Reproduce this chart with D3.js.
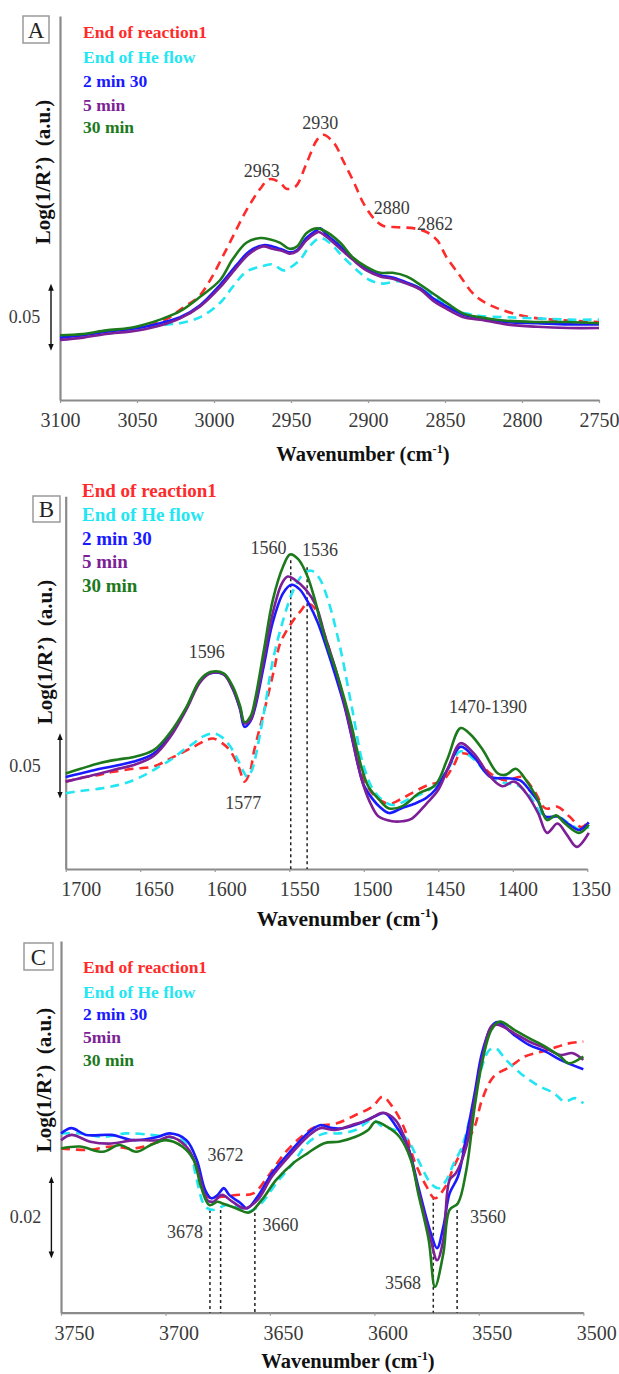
<!DOCTYPE html>
<html><head><meta charset="utf-8">
<script src="https://cdn.jsdelivr.net/npm/d3@7"></script>
<style>
html,body{margin:0;padding:0;background:#fff;}
svg text{font-family:'Liberation Serif','DejaVu Serif',serif !important;}
</style></head>
<body><div id="chart"></div>
<script>
// ---------- DATA ----------
const seriesNames = ["End of reaction1","End of He flow","2 min 30","5 min","30 min"];
const seriesNamesC = ["End of reaction1","End of He flow","2 min 30","5min","30 min"];
const seriesColors = ["#ff2a2a","#22e6f2","#1a1aff","#7d1f96","#1c7a1c"];

// Panel A (wavenumber, Log(1/R'))
const ticksA = [3100,3050,3000,2950,2900,2850,2800,2750];
const A_red = [[3100,0.052],[3080,0.055],[3060,0.058],[3050,0.060],[3040,0.063],[3030,0.068],[3020,0.077],[3010,0.086],[3002,0.101],[2995,0.118],[2989,0.133],[2979,0.158],[2970,0.176],[2964,0.184],[2957,0.181],[2953,0.176],[2947,0.178],[2940,0.197],[2933,0.217],[2929,0.221],[2922,0.214],[2916,0.199],[2909,0.181],[2903,0.164],[2896,0.151],[2890,0.145],[2881,0.144],[2870,0.143],[2862,0.140],[2855,0.133],[2849,0.119],[2840,0.103],[2832,0.089],[2825,0.082],[2813,0.075],[2795,0.069],[2780,0.067],[2750,0.065]];
const A_cyan = [[3100,0.053],[3080,0.055],[3060,0.057],[3050,0.059],[3040,0.061],[3030,0.063],[3022,0.064],[3009,0.069],[2996,0.081],[2988,0.094],[2979,0.107],[2970,0.111],[2962,0.113],[2955,0.108],[2951,0.110],[2944,0.117],[2938,0.128],[2931,0.135],[2925,0.131],[2916,0.119],[2907,0.108],[2899,0.100],[2890,0.097],[2881,0.099],[2871,0.096],[2862,0.090],[2853,0.083],[2845,0.076],[2836,0.072],[2827,0.070],[2810,0.069],[2790,0.068],[2770,0.067],[2750,0.067]];
const A_blue = [[3100,0.052],[3085,0.054],[3070,0.057],[3055,0.059],[3045,0.061],[3035,0.064],[3022,0.069],[3009,0.079],[2996,0.096],[2985,0.113],[2977,0.124],[2968,0.129],[2962,0.128],[2955,0.125],[2951,0.123],[2946,0.125],[2940,0.135],[2934,0.141],[2931,0.143],[2927,0.138],[2918,0.128],[2910,0.118],[2901,0.109],[2892,0.104],[2884,0.102],[2875,0.098],[2866,0.093],[2858,0.085],[2849,0.078],[2838,0.071],[2827,0.068],[2810,0.065],[2790,0.064],[2770,0.063],[2750,0.063]];
const A_purple = [[3100,0.050],[3085,0.052],[3070,0.055],[3055,0.057],[3045,0.059],[3035,0.062],[3022,0.068],[3009,0.078],[2996,0.094],[2985,0.111],[2977,0.122],[2968,0.128],[2962,0.126],[2955,0.124],[2951,0.122],[2946,0.124],[2940,0.133],[2934,0.139],[2932,0.140],[2927,0.136],[2918,0.126],[2910,0.117],[2901,0.108],[2892,0.103],[2884,0.101],[2875,0.097],[2866,0.092],[2858,0.083],[2849,0.076],[2838,0.069],[2827,0.067],[2810,0.063],[2790,0.061],[2770,0.060],[2750,0.060]];
const A_green = [[3100,0.054],[3085,0.055],[3070,0.058],[3055,0.060],[3045,0.063],[3035,0.067],[3022,0.074],[3009,0.086],[2996,0.100],[2988,0.117],[2979,0.131],[2970,0.135],[2964,0.134],[2957,0.131],[2951,0.126],[2946,0.128],[2940,0.139],[2933,0.143],[2927,0.140],[2918,0.131],[2910,0.119],[2901,0.111],[2892,0.106],[2884,0.106],[2875,0.103],[2866,0.096],[2858,0.089],[2849,0.081],[2838,0.072],[2827,0.069],[2810,0.066],[2790,0.065],[2770,0.065],[2750,0.064]];
const A_notes = [["2963",2969,0.191],["2930",2931,0.231],["2880",2884.6,0.160],["2862",2856.5,0.147]];

// Panel B
const ticksB = [1700,1650,1600,1550,1500,1450,1400,1350];
const B_red = [[1700,0.075],[1690,0.078],[1677,0.081],[1668,0.0835],[1655,0.086],[1641,0.088],[1628,0.096],[1614,0.105],[1605,0.111],[1601,0.112],[1595,0.108],[1590,0.102],[1584,0.088],[1580,0.075],[1576,0.085],[1574,0.099],[1570,0.120],[1565,0.145],[1560,0.172],[1556,0.194],[1547,0.214],[1542,0.222],[1538,0.228],[1533,0.224],[1526,0.200],[1519,0.170],[1513,0.143],[1508,0.116],[1503,0.090],[1498,0.072],[1492,0.062],[1483,0.056],[1475,0.060],[1468,0.065],[1457,0.072],[1447,0.076],[1440,0.088],[1435,0.099],[1426,0.096],[1415,0.082],[1404.5,0.076],[1394,0.079],[1386,0.068],[1378,0.052],[1370,0.0535],[1362,0.045],[1354,0.036],[1349,0.041]];
const B_cyan = [[1700,0.065],[1690,0.067],[1677,0.069],[1665,0.072],[1655,0.076],[1645,0.082],[1637,0.088],[1628,0.095],[1621,0.102],[1614,0.108],[1608,0.1136],[1601,0.1165],[1595,0.113],[1590,0.106],[1585,0.095],[1580,0.082],[1578,0.079],[1575,0.085],[1573,0.094],[1567,0.134],[1561,0.179],[1554,0.214],[1547,0.240],[1540,0.254],[1535,0.256],[1530,0.250],[1524,0.231],[1516,0.191],[1508,0.139],[1500,0.088],[1492,0.065],[1481,0.055],[1468,0.061],[1455,0.069],[1444,0.085],[1435,0.101],[1426,0.094],[1415,0.079],[1404.5,0.0735],[1397,0.072],[1389,0.0635],[1378,0.0434],[1370,0.045],[1362,0.039],[1354,0.0335],[1349,0.036]];
const B_blue = [[1700,0.079],[1690,0.082],[1677,0.086],[1665,0.089],[1655,0.092],[1641,0.099],[1630,0.115],[1619,0.138],[1610,0.161],[1603,0.168],[1594,0.167],[1588,0.155],[1583,0.137],[1580,0.122],[1576,0.127],[1573,0.138],[1567,0.175],[1561,0.212],[1554,0.237],[1548.5,0.244],[1543,0.240],[1537,0.228],[1531,0.212],[1525,0.190],[1519,0.166],[1513,0.140],[1508,0.113],[1504,0.090],[1500,0.072],[1494,0.060],[1489,0.053],[1483,0.048],[1475,0.052],[1466,0.056],[1458,0.061],[1452,0.068],[1444,0.085],[1435,0.105],[1426,0.096],[1415,0.079],[1404.5,0.078],[1395,0.076],[1389,0.068],[1383,0.058],[1378,0.045],[1370,0.045],[1362,0.038],[1355.5,0.0335],[1349,0.040]];
const B_purple = [[1700,0.075],[1690,0.078],[1677,0.082],[1665,0.086],[1655,0.089],[1641,0.097],[1630,0.113],[1619,0.137],[1610,0.160],[1603,0.168],[1594,0.167],[1588,0.155],[1583,0.138],[1580,0.125],[1576,0.128],[1573,0.140],[1567,0.180],[1561,0.220],[1555,0.245],[1551,0.251],[1546,0.248],[1539,0.240],[1532,0.226],[1526,0.200],[1519,0.172],[1513,0.142],[1508,0.114],[1504,0.090],[1500,0.071],[1495,0.055],[1490,0.045],[1481,0.041],[1474,0.041],[1468,0.043],[1458,0.056],[1450,0.068],[1443,0.088],[1435,0.108],[1426,0.099],[1415,0.079],[1407,0.071],[1399,0.075],[1391,0.065],[1383,0.048],[1377,0.031],[1370,0.039],[1364,0.030],[1357,0.019],[1349,0.031]];
const B_green = [[1700,0.082],[1690,0.086],[1677,0.091],[1665,0.094],[1655,0.096],[1641,0.102],[1630,0.117],[1619,0.139],[1610,0.162],[1603,0.169],[1594,0.168],[1588,0.157],[1583,0.140],[1580,0.126],[1576,0.131],[1573,0.145],[1567,0.188],[1561,0.231],[1554,0.260],[1549.5,0.270],[1544,0.266],[1538,0.252],[1533,0.232],[1529,0.212],[1524,0.190],[1518,0.168],[1513,0.146],[1508,0.122],[1505,0.105],[1501,0.085],[1497,0.071],[1490,0.060],[1483,0.052],[1474,0.054],[1463,0.065],[1452,0.072],[1444,0.094],[1435,0.121],[1428,0.115],[1420,0.102],[1410,0.082],[1404.5,0.081],[1398,0.086],[1391,0.076],[1383,0.059],[1377,0.042],[1371,0.046],[1365,0.039],[1355.5,0.031],[1349,0.038]];
const B_notes = [["1596",1605.4,0.1865],["1577",1580.8,0.0564],["1560",1564,0.2753],["1536",1529.4,0.2738],["1470-1390",1416.6,0.1388]];
const B_marks = [[1549,0.265],[1538,0.259]];

// Panel C
const ticksC = [3750,3700,3650,3600,3550,3500];
const C_red = [[3750,0.0438],[3737,0.0434],[3726,0.0443],[3715,0.0438],[3703,0.0456],[3698,0.0469],[3690,0.0443],[3685,0.0381],[3680,0.0309],[3673,0.0309],[3666,0.0314],[3658,0.0318],[3651,0.0363],[3643,0.0425],[3635,0.0469],[3628,0.0496],[3618,0.0505],[3609,0.0527],[3601,0.0549],[3596,0.0576],[3592,0.0554],[3586,0.0496],[3581,0.0407],[3575,0.0336],[3571,0.0305],[3566,0.0336],[3562,0.0389],[3557,0.0443],[3552,0.0496],[3548.5,0.0567],[3543,0.0629],[3535,0.0656],[3528,0.0683],[3520,0.0696],[3512.5,0.0709],[3507,0.0718],[3500,0.0723]];
const C_cyan = [[3750,0.0478],[3741,0.0478],[3730,0.0469],[3719,0.0478],[3707,0.0474],[3700,0.0469],[3692,0.046],[3688,0.0425],[3685,0.0354],[3681,0.0283],[3677,0.0274],[3671,0.0287],[3666,0.0283],[3660,0.027],[3654,0.0292],[3647,0.0345],[3639,0.0398],[3632,0.0452],[3624,0.0478],[3617,0.0478],[3609,0.0487],[3601,0.0514],[3596,0.0496],[3590,0.0487],[3584,0.046],[3579,0.0407],[3573,0.0345],[3569,0.0332],[3565.5,0.0354],[3562,0.0398],[3558,0.0443],[3553,0.0549],[3548.5,0.0656],[3545,0.07],[3542,0.0705],[3537,0.0674],[3530,0.0638],[3522,0.0607],[3514,0.0585],[3509,0.0563],[3504,0.0572],[3500,0.0558]];
const C_blue = [[3750,0.0478],[3745,0.0492],[3738,0.0474],[3726,0.0474],[3715,0.046],[3703.5,0.0469],[3698,0.0478],[3690,0.046],[3685,0.0407],[3681,0.0327],[3678,0.0305],[3675,0.0314],[3672,0.0332],[3669.5,0.0314],[3664,0.0292],[3661,0.0278],[3656,0.0309],[3649,0.0372],[3641,0.0425],[3632,0.0478],[3626,0.05],[3620,0.0492],[3615,0.0492],[3607,0.0505],[3600,0.0523],[3595,0.0532],[3590,0.05],[3584,0.0443],[3579,0.0336],[3573,0.0212],[3570,0.0172],[3567,0.0229],[3564,0.0318],[3560,0.0363],[3556,0.0469],[3552,0.0585],[3548.5,0.0692],[3544,0.0763],[3541,0.0775],[3533,0.074],[3526,0.0714],[3518,0.0696],[3511,0.0674],[3500,0.0649]];
const C_purple = [[3750,0.046],[3745,0.0474],[3736,0.0456],[3726,0.0451],[3715,0.046],[3703.5,0.046],[3698,0.0469],[3690,0.0443],[3685,0.039],[3680,0.03],[3677,0.0296],[3673,0.0314],[3668,0.0296],[3662,0.0278],[3656,0.03],[3649,0.0363],[3641,0.0416],[3632,0.0469],[3626,0.0492],[3619,0.0487],[3611,0.05],[3603,0.0514],[3596,0.0533],[3590,0.0514],[3584,0.0443],[3579,0.0327],[3573,0.0194],[3570,0.014],[3567,0.0194],[3564,0.0354],[3561,0.0372],[3556,0.0443],[3552,0.0567],[3548.5,0.0674],[3544,0.0763],[3541,0.0768],[3533,0.0745],[3526,0.0723],[3518,0.0705],[3511,0.0687],[3505,0.0692],[3500,0.0674]];
const C_green = [[3750,0.0438],[3741,0.0443],[3730,0.0429],[3722,0.0447],[3714,0.0429],[3707,0.0447],[3700,0.046],[3692,0.0443],[3686.5,0.0407],[3683,0.0336],[3679,0.0287],[3675,0.0296],[3673,0.0292],[3666,0.0278],[3660,0.0267],[3654,0.03],[3647,0.0354],[3639,0.0398],[3632,0.0425],[3624,0.0452],[3617,0.0456],[3609,0.0469],[3603,0.0487],[3599.5,0.0509],[3594,0.0496],[3588,0.0469],[3582.5,0.0407],[3579,0.0318],[3574,0.0194],[3571,0.0069],[3567,0.0158],[3564,0.0274],[3560,0.0292],[3556,0.038],[3552,0.0549],[3548.5,0.0665],[3544,0.0754],[3540,0.0776],[3533,0.0754],[3526,0.0732],[3518,0.0709],[3511,0.0683],[3507,0.0665],[3500,0.0683]];
const C_notes = [["3672",3671.3,0.0421],["3678",3690.6,0.0216],["3660",3644.9,0.0234],["3568",3586.3,0.0078],["3560",3545.6,0.0256]];
const C_marks = [[3678.7,0.0274],[3673.6,0.0274],[3657.2,0.0266],[3571.8,0.0309],[3560.4,0.0274]];

// ---------- DRAW ----------
const FONT = "'Liberation Serif','DejaVu Serif',serif";
const W = 619, H = 1374;
const svg = d3.select("#chart").append("svg").attr("width", W).attr("height", H)
  .attr("viewBox", `0 0 ${W} ${H}`).attr("font-family", FONT);
svg.append("rect").attr("width", W).attr("height", H).attr("fill", "#fff");

const defs = svg.append("defs");
["s","e"].forEach(k => {
  defs.append("marker").attr("id", "arr" + k).attr("viewBox", "0 0 10 10")
    .attr("refX", 5).attr("refY", 5).attr("markerWidth", 5).attr("markerHeight", 5)
    .attr("orient", "auto-start-reverse")
    .append("path").attr("d", "M0,1 L10,5 L0,9 Z").attr("fill", "#111");
});

function panel(cfg) {
  const x = d3.scaleLinear().domain(cfg.xDomain).range(cfg.xRange);
  const y = d3.scaleLinear().domain(cfg.yDomain).range(cfg.yRange);
  const g = svg.append("g").attr("font-family", FONT);

  // panel letter box
  g.append("rect").attr("x", cfg.box[0]).attr("y", cfg.box[1]).attr("width", cfg.box[2]).attr("height", cfg.box[3])
    .attr("fill", "#fff").attr("stroke", "#9a9a9a").attr("stroke-width", 1.5);
  g.append("text").attr("x", cfg.box[0] + cfg.box[2] / 2).attr("y", cfg.box[1] + cfg.box[3] / 2 + 8)
    .attr("text-anchor", "middle").attr("font-size", 23).attr("fill", "#222").text(cfg.letter);

  // x axis
  const xa = g.append("g").attr("transform", `translate(0,${cfg.yRange[0]})`)
    .call(d3.axisBottom(x).tickValues(cfg.ticks).tickSize(3).tickSizeOuter(0).tickFormat(d3.format("d")));
  xa.attr("font-family", FONT);
  xa.select(".domain").attr("stroke", "#8a8a8a").attr("stroke-width", 2.2);
  xa.selectAll(".tick line").attr("stroke", "#9a9a9a").attr("stroke-width", 1.2);
  xa.selectAll(".tick text").attr("y", 13).attr("font-size", 20).attr("fill", "#3a3a3a")
    .attr("dx", (d, i) => cfg.labelShift(i));

  // y axis (line only)
  const ya = g.append("g").attr("transform", `translate(${cfg.xRange[0]},0)`)
    .call(d3.axisLeft(y).tickValues([]).tickSizeOuter(0));
  ya.select(".domain").attr("stroke", "#8a8a8a").attr("stroke-width", 2.2);

  // axis titles
  const xt = g.append("text").attr("x", cfg.xTitle[0]).attr("y", cfg.xTitle[1])
    .attr("text-anchor", "middle").attr("font-size", cfg.xTitleSize).attr("font-weight", "bold").attr("fill", "#111");
  xt.append("tspan").text("Wavenumber (cm");
  xt.append("tspan").attr("font-size", cfg.xTitleSize * 0.6).attr("dy", -cfg.xTitleSize * 0.4).text("-1");
  xt.append("tspan").attr("dy", cfg.xTitleSize * 0.4).text(")");

  g.append("text").attr("transform", `translate(${cfg.yTitle[0]},${cfg.yTitle[1]}) rotate(-90)`)
    .attr("text-anchor", "middle").attr("dy", "0.35em").attr("font-size", 21).attr("font-weight", "bold")
    .attr("fill", "#111").style("white-space", "pre").text("Log(1/R\u2019)  (a.u.)");

  // scale bar
  g.append("line").attr("x1", cfg.barX).attr("x2", cfg.barX)
    .attr("y1", y(cfg.bar[0])).attr("y2", y(cfg.bar[1]))
    .attr("stroke", "#111").attr("stroke-width", 1.4)
    .attr("marker-start", "url(#arrs)").attr("marker-end", "url(#arre)");
  g.append("text").attr("x", cfg.barLabelX).attr("y", (y(cfg.bar[0]) + y(cfg.bar[1])) / 2 + 6)
    .attr("text-anchor", "middle").attr("font-size", 18).attr("fill", "#3a3a3a").text(cfg.barLabel);

  // vertical reference lines
  (cfg.marks || []).forEach(m => {
    g.append("line").attr("x1", x(m[0])).attr("x2", x(m[0])).attr("y1", y(m[1])).attr("y2", cfg.yRange[0])
      .attr("stroke", "#222").attr("stroke-width", 1.5).attr("stroke-dasharray", "3,3");
  });

  // curves
  const line = d3.line().x(d => x(d[0])).y(d => y(d[1])).curve(d3.curveCatmullRom.alpha(0.5));
  cfg.series.forEach((s, i) => {
    const dashed = i < 2;
    g.append("path").datum(s).attr("d", line).attr("fill", "none")
      .attr("stroke", seriesColors[i]).attr("stroke-width", 2.6)
      .attr("stroke-linejoin", "round")
      .attr("stroke-dasharray", dashed ? "9,6" : null);
  });

  // annotations
  cfg.notes.forEach(n => {
    g.append("text").attr("x", x(n[1])).attr("y", y(n[2]) + 6).attr("text-anchor", "middle")
      .attr("font-size", 18).attr("fill", "#3a3a3a").text(n[0]);
  });

  // legend
  cfg.names.forEach((nm, i) => {
    g.append("text").attr("x", cfg.legX).attr("y", cfg.legY[i] + 6)
      .attr("font-size", cfg.legSize).attr("font-weight", "bold").attr("fill", seriesColors[i]).text(nm);
  });
}

panel({
  letter: "A", box: [23, 16, 26, 27],
  xDomain: [3100, 2750], xRange: [60, 599],
  yDomain: [0, 0.32], yRange: [400, 16],
  ticks: ticksA, labelShift: i => 0,
  xTitle: [363, 461], xTitleSize: 20.5, yTitle: [43, 172],
  barX: 51, bar: [0.094, 0.044], barLabel: "0.05", barLabelX: 24.5,
  series: [A_red, A_cyan, A_blue, A_purple, A_green], notes: A_notes,
  names: seriesNames, legX: 83, legY: [32, 57, 81, 105, 127], legSize: 17.5
});

panel({
  letter: "B", box: [33, 496, 27, 26],
  xDomain: [1700, 1350], xRange: [65.7, 587.3],
  yDomain: [0, 0.32], yRange: [869, 496.2],
  ticks: ticksB, labelShift: i => 15 - 1.7 * i,
  xTitle: [347.5, 926], xTitleSize: 21.5, yTitle: [45, 652],
  barX: 60, bar: [0.1136, 0.0635], barLabel: "0.05", barLabelX: 25,
  series: [B_red, B_cyan, B_blue, B_purple, B_green], notes: B_notes, marks: B_marks,
  names: seriesNames, legX: 82, legY: [491, 515, 539, 562, 586], legSize: 19
});

panel({
  letter: "C", box: [24, 943, 29, 27],
  xDomain: [3750, 3500], xRange: [61, 583.3],
  yDomain: [0, 0.0991], yRange: [1312.7, 941],
  ticks: ticksC, labelShift: i => 13,
  xTitle: [348, 1368], xTitleSize: 20.5, yTitle: [43.5, 1080],
  barX: 51.4, bar: [0.0354, 0.0154], barLabel: "0.02", barLabelX: 25.5,
  series: [C_red, C_cyan, C_blue, C_purple, C_green], notes: C_notes, marks: C_marks,
  names: seriesNamesC, legX: 83, legY: [967, 992, 1014, 1037, 1060], legSize: 17.5
});
</script>
</body></html>
